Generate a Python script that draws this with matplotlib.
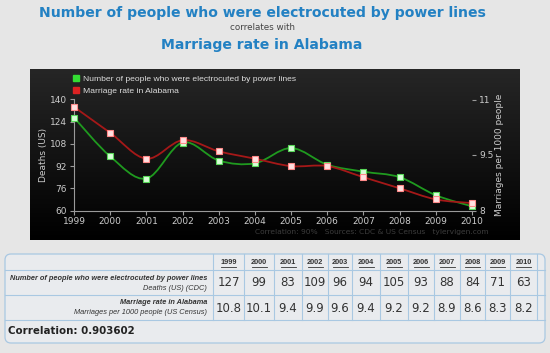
import matplotlib.pyplot as plt
import numpy as np
from matplotlib.path import Path
from matplotlib.patches import PathPatch, FancyBboxPatch
from matplotlib.lines import Line2D
from matplotlib.colors import LinearSegmentedColormap

# --- datos ---
years = [1999, 2000, 2001, 2002, 2003, 2004, 2005, 2006, 2007, 2008, 2009, 2010]
deaths = [127, 99, 83, 109, 96, 94, 105, 93, 88, 84, 71, 63]
marriage = [10.8, 10.1, 9.4, 9.9, 9.6, 9.4, 9.2, 9.2, 8.9, 8.6, 8.3, 8.2]
deaths_ticks = [60, 76, 92, 108, 124, 140]
marriage_ticks = [8, 9.5, 11]
marriage_ticklabels = ['8', '9.5', '11']

title_1 = 'Number of people who were electrocuted by power lines'
title_2 = 'Marriage rate in Alabama'
row_labels = [('Number of people who were electrocuted by power lines', 'Deaths (US) (CDC)'),
              ('Marriage rate in Alabama', 'Marriages per 1000 people (US Census)')]
correlation = 0.903602

W, H = 550, 353
BLUE = '#2381c3'
GREEN = '#1f9a1f'
RED = '#a51818'
NARROW = 'Liberation Sans'


def px(x0, y0, x1, y1):
    return [x0 / W, 1 - y1 / H, (x1 - x0) / W, (y1 - y0) / H]


def smooth(xs, ys):
    # curva tipo spline (Catmull-Rom) con segmentos Bezier de matplotlib
    n = len(xs)
    verts = [(xs[0], ys[0])]
    codes = [Path.MOVETO]
    for i in range(n - 1):
        a = max(i - 1, 0)
        b = min(i + 2, n - 1)
        c1 = (xs[i] + (xs[i + 1] - xs[a]) / 6, ys[i] + (ys[i + 1] - ys[a]) / 6)
        c2 = (xs[i + 1] - (xs[b] - xs[i]) / 6, ys[i + 1] - (ys[b] - ys[i]) / 6)
        verts += [c1, c2, (xs[i + 1], ys[i + 1])]
        codes += [Path.CURVE4] * 3
    return Path(verts, codes)


fig = plt.figure(figsize=(5.5, 3.53), dpi=100)
fig.patch.set_facecolor('#e6e6e6')

# panel negro con degradado
panel = fig.add_axes(px(30, 69, 520, 240))
cmap = LinearSegmentedColormap.from_list('bg', ['#262626', '#000000'])
panel.imshow(np.linspace(0, 1, 256).reshape(-1, 1), cmap=cmap, aspect='auto', extent=[0, 1, 0, 1])
panel.axis('off')

ax = fig.add_axes(px(74, 99.5, 472, 210.5))
ax.patch.set_alpha(0)
ax.set_xlim(1999, 2010)
ax.set_ylim(60, 140)
ax2 = ax.twinx()
ax2.set_ylim(8, 11)

for s in ['top', 'right']:
    ax.spines[s].set_visible(False)
for s in ['left', 'bottom']:
    ax.spines[s].set_color('#9a9a9a')
for s in ax2.spines.values():
    s.set_visible(False)

ax.set_xticks(years)
ax.set_yticks(deaths_ticks)
ax2.set_yticks(marriage_ticks)
ax2.set_yticklabels(marriage_ticklabels)
for a in (ax, ax2):
    a.tick_params(colors='#9a9a9a', labelcolor='#cccccc', labelsize=6.5, length=3, width=0.8, pad=2)
ax.set_ylabel('Deaths (US)', color='#cccccc', fontsize=6.5, labelpad=1)
ax2.set_ylabel('Marriages per 1000 people', color='#cccccc', fontsize=6.5, labelpad=1)

ax.add_patch(PathPatch(smooth(years, deaths), fc='none', ec=GREEN, lw=1.3, zorder=3))
ax2.add_patch(PathPatch(smooth(years, marriage), fc='none', ec=RED, lw=1.3, zorder=3))
ax.plot(years, deaths, ls='none', marker='s', ms=4.5, mfc='#d8ffd8', mec='#5ad85a', mew=0.8,
        clip_on=False, zorder=4)
ax2.plot(years, marriage, ls='none', marker='s', ms=4.5, mfc='#ffe0e0', mec='#ff8a8a', mew=0.8,
         clip_on=False, zorder=4)

handles = [Line2D([], [], ls='none', marker='s', ms=4, color='#33dd33'),
           Line2D([], [], ls='none', marker='s', ms=4, color='#dd2222')]
fig.legend(handles, [title_1, title_2], loc='upper left', bbox_to_anchor=(72 / W, 1 - 75.5 / H),
           frameon=False, prop={'family': NARROW, 'size': 6.1}, labelcolor='#dddddd',
           handlelength=0.9, handletextpad=0.45, labelspacing=0.45, borderaxespad=0, borderpad=0)

# capa para textos y tabla en pixeles
ov = fig.add_axes([0, 0, 1, 1])
ov.set_xlim(0, W)
ov.set_ylim(H, 0)
ov.axis('off')

ov.text(262, 13, title_1, color=BLUE, fontsize=10.1, fontweight='bold', ha='center', va='center')
ov.text(262, 28, 'correlates with', color='#444444', fontsize=6.3, ha='center', va='center')
ov.text(262, 45, title_2, color=BLUE, fontsize=10.1, fontweight='bold', ha='center', va='center')
ov.text(489, 232, 'Correlation: 90%   Sources: CDC & US Census   tylervigen.com', color='#3c3c3c',
        fontsize=5.4, ha='right', va='center')

# --- tabla ---
LINE = '#a9c8e2'
col_edges = [213, 244, 274, 302, 328, 352, 380, 408, 434, 460, 485, 510, 537]
top, r1, r2, r3, bottom = 254, 270, 295, 320, 343
ov.add_patch(FancyBboxPatch((5, top), 540, bottom - top, boxstyle='round,pad=0,rounding_size=6',
                            fc='#e9ebee', ec=LINE, lw=0.9))
for y in (r1, r2, r3):
    ov.plot([5, 545], [y, y], color=LINE, lw=0.8)
for x in col_edges:
    ov.plot([x, x], [top, r3], color=LINE, lw=0.8)

for i, yr in enumerate(years):
    xc = (col_edges[i] + col_edges[i + 1]) / 2
    ov.text(xc, 263, str(yr), fontsize=5.3, fontweight='bold', family=NARROW, color='#333333',
            ha='center', va='center')
    ov.plot([xc - 7.5, xc + 7.5], [266.8, 266.8], color='#333333', lw=0.6)
    ov.text(xc, 283, str(deaths[i]), fontsize=8.5, color='#333333', ha='center', va='center')
    ov.text(xc, 308, f'{marriage[i]:.1f}', fontsize=8.5, color='#333333', ha='center', va='center')

for (l1, l2), yc in zip(row_labels, [(279, 288), (303, 312)]):
    ov.text(207, yc[0], l1, fontsize=5.3, fontweight='bold', style='italic', family=NARROW,
            color='#333333', ha='right', va='center')
    ov.text(207, yc[1], l2, fontsize=5.3, style='italic', family=NARROW, color='#333333',
            ha='right', va='center')

ov.text(8, 331, f'Correlation: {correlation}', fontsize=7.4, fontweight='bold', color='#222222',
        ha='left', va='center')

fig.savefig('out.png', dpi=100, facecolor=fig.get_facecolor())
